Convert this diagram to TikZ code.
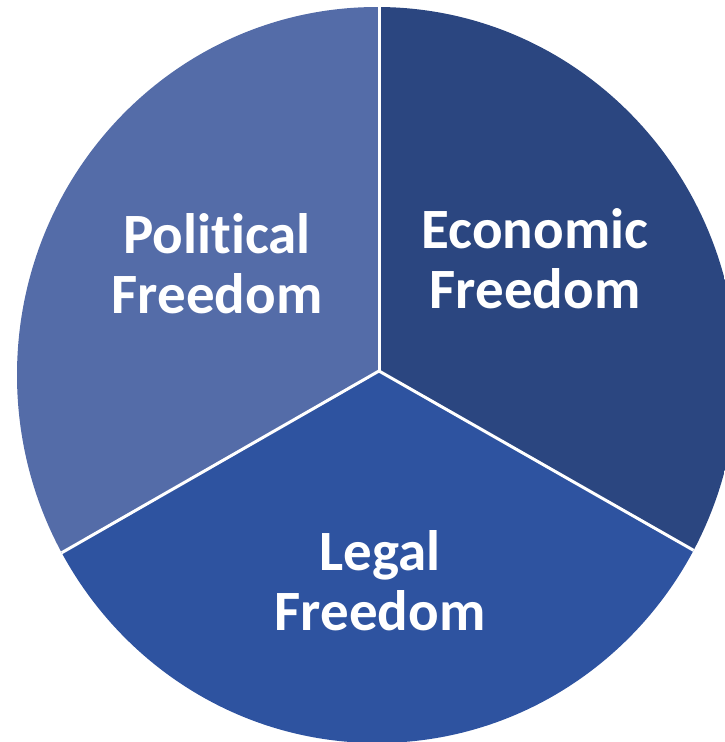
\documentclass[tikz,border=0pt]{standalone}
\usepackage{fontspec}
\setmainfont{Carlito}[Ligatures=NoCommon]
\definecolor{polblue}{RGB}{84,108,168}
\definecolor{ecoblue}{RGB}{43,70,128}
\definecolor{legblue}{RGB}{46,83,160}
\begin{document}
\begin{tikzpicture}[x=1pt,y=-1pt,
  sector label/.style={text=white, font=\bfseries\fontsize{57}{60}\selectfont,
    align=center, anchor=base, inner sep=0pt},
  spoke/.style={draw=white, line width=3pt}]
\useasboundingbox (0,0) rectangle (725,742);
% pie hub and outline centre
\coordinate (C) at (379,371);
\coordinate (O) at (377,375);
% far points along the three spokes
\coordinate (up) at (379,-700);
\coordinate (ll) at (-569,914);
\coordinate (lr) at (1321,908);
\begin{scope}
  \clip (O) ellipse [x radius=360, y radius=368];
  \fill[polblue] (C) -- (up) -- (-700,-700) -- (ll) -- cycle;
  \fill[ecoblue] (C) -- (up) -- (1400,-700) -- (lr) -- cycle;
  \fill[legblue] (C) -- (ll) -- (-569,1400) -- (1321,1400) -- (lr) -- cycle;
  \draw[spoke] (C) -- (up);
  \draw[spoke] (C) -- (ll);
  \draw[spoke] (C) -- (lr);
\end{scope}
% labels, placed by the baseline of their last line
\node[sector label] (pol) at (217,313) {Political\\Freedom};
\node[sector label] (eco) at (535,308) {Economic\\Freedom};
\node[sector label] (leg) at (380,630) {Legal\\Freedom};
\end{tikzpicture}
\end{document}
